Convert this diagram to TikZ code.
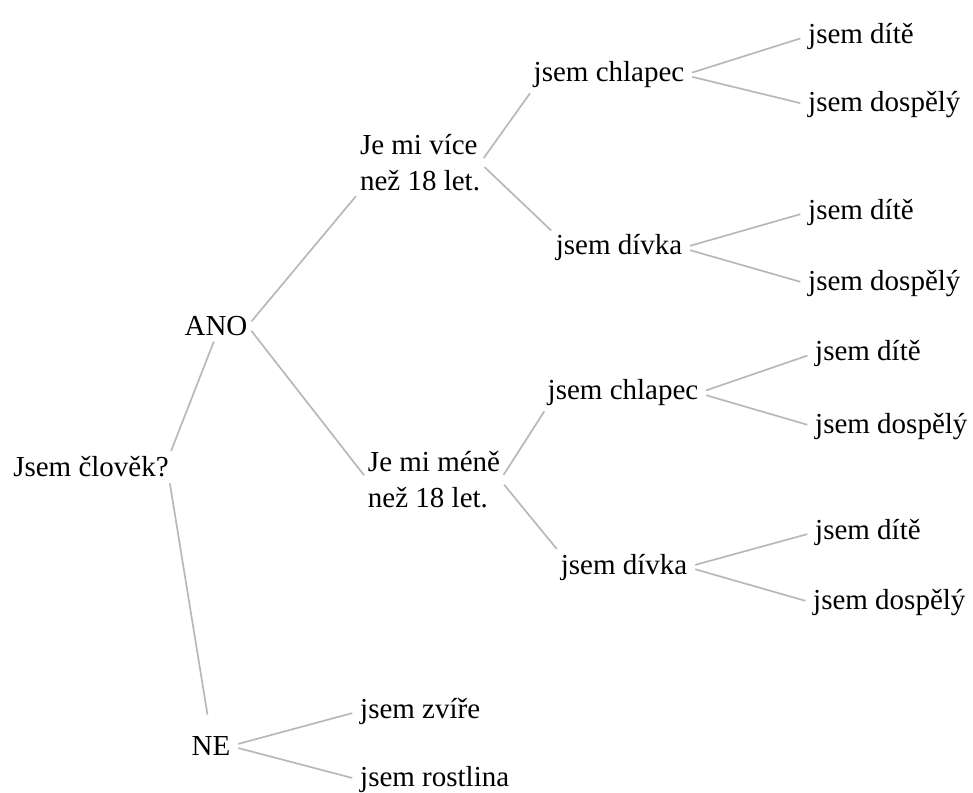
\documentclass[tikz,border=0pt]{standalone}
\usepackage{fontspec}
\setmainfont{Liberation Serif}
\definecolor{linegray}{HTML}{B8B8B8}
\begin{document}
\begin{tikzpicture}[x=1pt,y=-1pt,
  lbl/.style={inner sep=0pt,font=\fontsize{29}{36}\selectfont},
  con/.style={draw=linegray,line width=1.7pt,shorten <=#1,shorten >=#1},
  con/.default=6pt]
\useasboundingbox (0,0) rectangle (973,792);
\node[lbl] (clovek) at (91,467) {Jsem člověk?};
\node[lbl] (ano) at (216,326) {ANO};
\node[lbl,align=left] (vice) at (420,163) {Je mi více\\než 18 let.};
\node[lbl,align=left] (mene) at (434,480) {Je mi méně\\než 18 let.};
\node[lbl] (ch1) at (609,75) {jsem chlapec};
\node[lbl] (dv1) at (619,248) {jsem dívka};
\node[lbl] (ch2) at (623,393) {jsem chlapec};
\node[lbl] (dv2) at (624,567) {jsem dívka};
\node[lbl,anchor=west] (dite1) at (808,36) {jsem dítě};
\node[lbl,anchor=west] (dosp1) at (808,105) {jsem dospělý};
\node[lbl,anchor=west] (dite2) at (808,212) {jsem dítě};
\node[lbl,anchor=west] (dosp2) at (808,284) {jsem dospělý};
\node[lbl,anchor=west] (dite3) at (815,353) {jsem dítě};
\node[lbl,anchor=west] (dosp3) at (815,427) {jsem dospělý};
\node[lbl,anchor=west] (dite4) at (815,532) {jsem dítě};
\node[lbl,anchor=west] (dosp4) at (813,603) {jsem dospělý};
\node[lbl] (ne) at (211,746) {NE};
\node[lbl,anchor=west] (zvire) at (360,711) {jsem zvíře};
\node[lbl,anchor=west] (rostlina) at (360,780) {jsem rostlina};
% connectors
\draw[con] (clovek.north east) -- (ano.south);
\draw[con,shorten >=22pt] (clovek.south east) -- (ne.north);
\draw[con] (ano.east) -- (vice.south west);
\draw[con] (ano.east) -- (mene.west);
\draw[con] (vice.east) -- (ch1.south west);
\draw[con] (vice.east) -- (dv1.north west);
\draw[con] (mene.east) -- (ch2.south west);
\draw[con] (mene.east) -- (dv2.north west);
\draw[con=8pt] (ch1.east) -- (dite1.west);
\draw[con=8pt] (ch1.east) -- (dosp1.west);
\draw[con=8pt] (dv1.east) -- (dite2.west);
\draw[con=8pt] (dv1.east) -- (dosp2.west);
\draw[con=8pt] (ch2.east) -- (dite3.west);
\draw[con=8pt] (ch2.east) -- (dosp3.west);
\draw[con=8pt] (dv2.east) -- (dite4.west);
\draw[con=8pt] (dv2.east) -- (dosp4.west);
\draw[con=8pt] (ne.east) -- (zvire.west);
\draw[con=8pt] (ne.east) -- (rostlina.west);
\end{tikzpicture}
\end{document}
